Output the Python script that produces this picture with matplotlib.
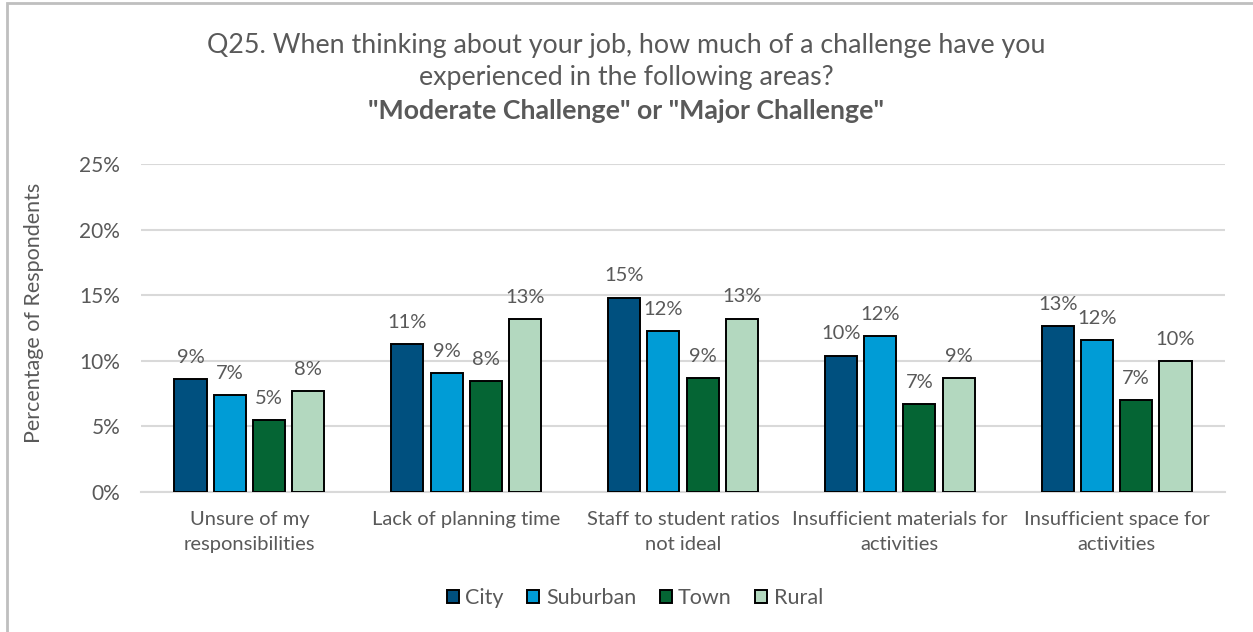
import matplotlib
matplotlib.use("Agg")
import matplotlib.pyplot as plt
from matplotlib.patches import Rectangle
import numpy as np

plt.rcParams['font.family'] = ['Lato', 'DejaVu Sans']

categories = [
    "Unsure of my\nresponsibilities",
    "Lack of planning time",
    "Staff to student ratios\nnot ideal",
    "Insufficient materials for\nactivities",
    "Insufficient space for\nactivities",
]
series_names = ["City", "Suburban", "Town", "Rural"]
city = [8.6, 11.26, 14.82, 10.4, 12.64]
suburban = [7.4, 9.04, 12.28, 11.88, 11.57]
town = [5.45, 8.45, 8.7, 6.7, 7.0]
rural = [7.7, 13.17, 13.22, 8.7, 10.0]
y_ticks = [0, 5, 10, 15, 20, 25]

colors = ["#00507F", "#009CD6", "#056534", "#B3D8BF"]
text_color = "#595959"

W, H = 1253, 632
fig = plt.figure(figsize=(W / 100, H / 100), dpi=100)

# chart frame (only the top and left edges fall inside the image)
fig.patches.append(Rectangle((7 / W, -0.5), 1.5, 1.5 - 3 / H, transform=fig.transFigure,
                             fill=False, edgecolor="#BFBFBF", linewidth=2, zorder=0))

ax = fig.add_axes([141 / W, 1 - 492 / H, (1225 - 141) / W, (492 - 164) / H])

series = [city, suburban, town, rural]
x = np.arange(len(categories))
width = 0.148
step = 0.181
for i, (name, vals) in enumerate(zip(series_names, series)):
    pos = x + (i - 1.5) * step
    bars = ax.bar(pos, vals, width, color=colors[i], edgecolor="black",
                  linewidth=1.4, label=name, zorder=3)
    for b, v in zip(bars, vals):
        ax.text(b.get_x() + b.get_width() / 2, v + 1.0, f"{round(v):d}%",
                ha="center", va="bottom", fontsize=14.5, color=text_color)

ax.set_xlim(-0.5, len(categories) - 0.5)
ax.set_ylim(0, 25)
ax.set_yticks(y_ticks)
ax.set_yticklabels([f"{t}%" for t in y_ticks])
ax.yaxis.grid(True, color="#D9D9D9", linewidth=1.5, zorder=0)
ax.set_axisbelow(True)
for s in ["top", "right", "left"]:
    ax.spines[s].set_visible(False)
ax.spines["bottom"].set_color("#D9D9D9")
ax.spines["bottom"].set_linewidth(1.5)
ax.tick_params(axis="y", length=0, labelsize=15, colors=text_color, pad=15)
ax.tick_params(axis="x", length=0, labelsize=14.5, colors=text_color, pad=14)
ax.set_xticks(x)
ax.set_xticklabels(categories, linespacing=1.55)

ax.set_ylabel("Percentage of Respondents", fontsize=15.5, color=text_color)
ax.yaxis.set_label_coords((44 - 141) / 1084, (492 - 313) / 328)

fig.text(0.5, 1 - 45 / H, "Q25. When thinking about your job, how much of a challenge have you",
         ha="center", va="center", fontsize=19.3, color=text_color)
fig.text(0.5, 1 - 78 / H, "experienced in the following areas?",
         ha="center", va="center", fontsize=19.3, color=text_color)
fig.text(0.5, 1 - 111 / H, "\"Moderate Challenge\" or \"Major Challenge\"",
         ha="center", va="center", fontsize=19.3, fontweight="bold", color=text_color)

leg = fig.legend(loc="center", bbox_to_anchor=(635 / W, 1 - 598 / H), ncol=4, frameon=False,
                 fontsize=15.5, handlelength=0.55, handleheight=0.55, handletextpad=0.3,
                 columnspacing=1.1, labelcolor=text_color)

fig.savefig("out.png", dpi=100, facecolor="white")
